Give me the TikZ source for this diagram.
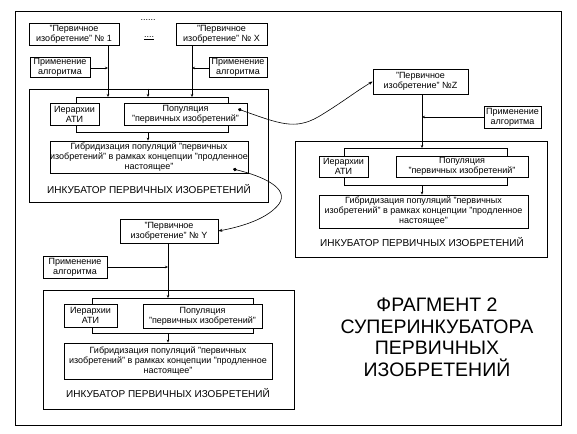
\documentclass[tikz,border=0pt]{standalone}
\usepackage{fontspec}
\setmainfont{Liberation Sans}
\usetikzlibrary{arrows.meta}
\begin{document}
\begin{tikzpicture}[x=1pt,y=-1pt,
  box/.style={draw,line width=0.7pt,inner sep=0pt,align=center,font=\fontsize{9}{10}\selectfont},
  frame/.style={draw,line width=0.7pt},
  lbl/.style={font=\fontsize{10}{11}\selectfont},
  dots/.style={inner sep=0pt,font=\fontsize{9}{10}\selectfont},
  ln/.style={line width=0.7pt},
  arr/.style={line width=0.7pt,-{Stealth[length=3pt,width=2.5pt]}},
  crv/.style={line width=0.6pt,{Diamond[length=4pt,width=3.5pt]}-{Stealth[length=4pt,width=3pt]}}
]
\useasboundingbox (0,0) rectangle (577,433);
\draw[frame] (15,11) rectangle (561,425);

% ---------- group A (top left)
\node[box,minimum width=90pt,minimum height=22pt] (p1) at (74,34) {"Первичное\\изобретение" № 1};
\node[box,minimum width=91pt,minimum height=22pt] (pX) at (221.5,34) {"Первичное\\изобретение" № X};
\node[dots] (dt1) at (148,20) {......};
\node[dots] (dt2) at (149,38) {\underline{....}};
\node[box,minimum width=60pt,minimum height=20pt] (alg1) at (60,67) {Применение\\алгоритма};
\node[box,minimum width=58pt,minimum height=20pt] (algX) at (238,67) {Применение\\алгоритма};
\node[box,minimum width=239pt,minimum height=113pt] (incA) at (148.5,145.5) {};
\node[box,minimum width=49pt,minimum height=22pt] (hierA) at (74.5,114) {Иерархии\\АТИ};
\node[box,minimum width=123pt,minimum height=22pt] (popA) at (185.5,114) {Популяция\\"первичных изобретений"};
\node[box,minimum width=196pt,minimum height=32pt] (hybA) at (149,157) {Гибридизация популяций "первичных\\изобретений" в рамках концепции "продленное\\настоящее"};
\node[lbl] (labA) at (149,189) {ИНКУБАТОР ПЕРВИЧНЫХ ИЗОБРЕТЕНИЙ};
\coordinate (bA1) at (108,97);
\coordinate (bA2) at (192,97);
\coordinate (bA3) at (148,97);
\coordinate (jA1) at (108,68);
\coordinate (jA2) at (192,68);
\draw[ln] (76,103) -- (76,97) -- (228,97) -- (228,103);
\draw[ln] (76,125) -- (76,132) -- (228,132) -- (228,125);
\draw[arr] (p1.south -| bA1) -- (bA1);
\draw[arr] (pX.south -| bA2) -- (bA2);
\draw[arr] (incA.north -| bA3) -- (bA3);
\draw[arr] (alg1.east |- jA1) -- (jA1);
\draw[arr] (algX.west |- jA2) -- (jA2);
\draw[arr] (148,132) -- (hybA.north -| bA3);

% ---------- group Z (right)
\node[box,minimum width=95pt,minimum height=25pt] (pZ) at (420.5,81.5) {"Первичное\\изобретение" №Z};
\node[box,minimum width=57pt,minimum height=22pt] (algZ) at (512.5,117) {Применение\\алгоритма};
\node[box,minimum width=252pt,minimum height=116pt] (incZ) at (421,199) {};
\node[box,minimum width=49pt,minimum height=21pt] (hierZ) at (343.5,166.5) {Иерархии\\АТИ};
\node[box,minimum width=132pt,minimum height=21pt] (popZ) at (462,166.5) {Популяция\\"первичных изобретений"};
\node[box,minimum width=209pt,minimum height=33pt] (hybZ) at (423.5,211.5) {Гибридизация популяций "первичных\\изобретений" в рамках концепции "продленное\\настоящее"};
\node[lbl] (labZ) at (422,242) {ИНКУБАТОР ПЕРВИЧНЫХ ИЗОБРЕТЕНИЙ};
\coordinate (bZ) at (422,148);
\coordinate (jZ) at (422,117);
\draw[ln] (344,156) -- (344,148) -- (507,148) -- (507,156);
\draw[ln] (344,177) -- (344,185) -- (507,185) -- (507,177);
\draw[arr] (pZ.south -| bZ) -- (bZ);
\draw[arr] (algZ.west) -- (jZ);
\draw[arr] (422,185) -- (hybZ.north -| bZ);

% ---------- group Y (bottom left)
\node[box,minimum width=98pt,minimum height=24pt] (pY) at (169,231) {"Первичное\\изобретение" № Y};
\node[box,minimum width=64pt,minimum height=22pt] (algY) at (75,267) {Применение\\алгоритма};
\node[box,minimum width=251pt,minimum height=119pt] (incY) at (168.5,349.5) {};
\node[box,minimum width=53pt,minimum height=23pt] (hierY) at (90.5,315.5) {Иерархии\\АТИ};
\node[box,minimum width=119pt,minimum height=24pt] (popY) at (202.5,316) {Популяция\\"первичных изобретений"};
\node[box,minimum width=208pt,minimum height=36pt] (hybY) at (168,361) {Гибридизация популяций "первичных\\изобретений" в рамках концепции "продленное\\настоящее"};
\node[lbl] (labY) at (168,393) {ИНКУБАТОР ПЕРВИЧНЫХ ИЗОБРЕТЕНИЙ};
\coordinate (bY) at (168,298);
\coordinate (jY) at (168,267);
\draw[ln] (92,304) -- (92,298) -- (253,298) -- (253,304);
\draw[ln] (92,327) -- (92,333) -- (253,333) -- (253,328);
\draw[arr] (pY.south -| bY) -- (bY);
\draw[arr] (algY.east) -- (jY);
\draw[arr] (168,333) -- (hybY.north -| bY);

% ---------- curved links
\coordinate (dA) at (238,109);
\coordinate (dB) at (233,169);
\draw[crv] (dA) .. controls (280,124) and (295,130) .. (318,117) .. controls (340,104) and (355,92) .. (pZ.west);
\draw[crv] (dB) .. controls (262,176) and (290,188) .. (279,204) .. controls (268,218) and (245,226) .. (pY.east);

% ---------- title
\node[align=center,font=\fontsize{19.5}{21.5}\selectfont] (title) at (437,337.5) {ФРАГМЕНТ 2\\СУПЕРИНКУБАТОРА\\ПЕРВИЧНЫХ\\ИЗОБРЕТЕНИЙ};
\end{tikzpicture}
\end{document}
